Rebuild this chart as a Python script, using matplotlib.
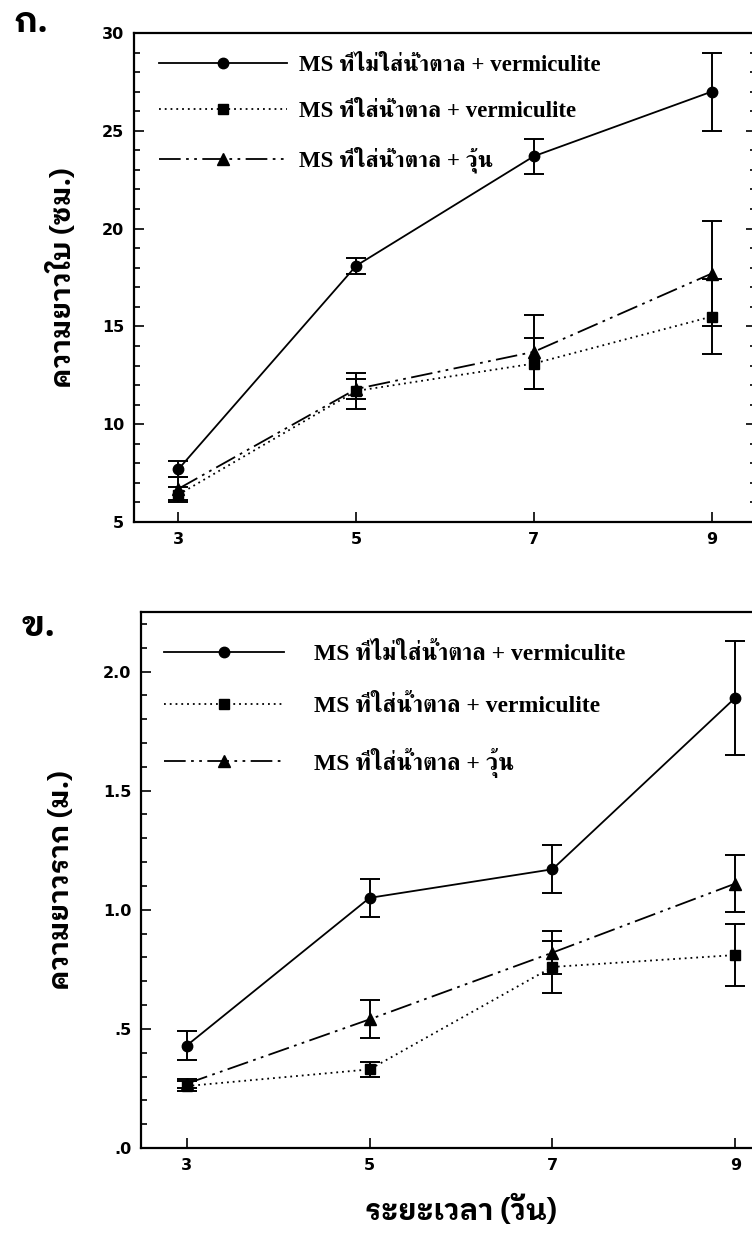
import matplotlib
matplotlib.use("Agg")
import matplotlib.pyplot as plt
from matplotlib.lines import Line2D
from matplotlib.font_manager import FontProperties
from matplotlib.ticker import MultipleLocator, FuncFormatter

# days after planting
days = [3, 5, 7, 9]

labels = ["MS ที่ไม่ใส่น้ำตาล + vermiculite",
          "MS ที่ใส่น้ำตาล + vermiculite",
          "MS ที่ใส่น้ำตาล + วุ้น"]

# leaf length (cm)
leaf_nosugar_verm = [7.7, 18.1, 23.7, 27.0]
leaf_nosugar_verm_err = [0.4, 0.4, 0.9, 2.0]
leaf_sugar_verm = [6.4, 11.7, 13.1, 15.5]
leaf_sugar_verm_err = [0.4, 0.9, 1.3, 1.9]
leaf_sugar_agar = [6.7, 11.8, 13.7, 17.7]
leaf_sugar_agar_err = [0.6, 0.5, 1.9, 2.7]

# root length
root_nosugar_verm = [0.43, 1.05, 1.17, 1.89]
root_nosugar_verm_err = [0.06, 0.08, 0.10, 0.24]
root_sugar_verm = [0.26, 0.33, 0.76, 0.81]
root_sugar_verm_err = [0.02, 0.03, 0.11, 0.13]
root_sugar_agar = [0.27, 0.54, 0.82, 1.11]
root_sugar_agar_err = [0.02, 0.08, 0.09, 0.12]

W, H = 752, 1242
fig = plt.figure(figsize=(W / 100, H / 100), dpi=100)


def px_axes(left, right, top, bottom):
    return fig.add_axes([left / W, 1 - bottom / H, (right - left) / W, (bottom - top) / H])


thai_bold = ['IBM Plex Sans Thai Looped', 'DejaVu Sans']
serif_thai = ['Liberation Serif', 'FreeSerif', 'DejaVu Serif']

styles = [
    dict(ls='-', marker='o', ms=7.5),
    dict(ls=(0, (1, 2.2)), marker='s', ms=7),
    dict(ls=(0, (12, 3, 1.5, 3, 1.5, 3)), marker='^', ms=8),
]


def bold_ticks(ax):
    for lab in ax.get_xticklabels() + ax.get_yticklabels():
        lab.set_fontfamily('DejaVu Sans')
        lab.set_fontweight('bold')


def draw_panel(ax, series, errs):
    for vals, err, st in zip(series, errs, styles):
        ax.errorbar(days, vals, yerr=err, fmt='none', ecolor='black',
                    elinewidth=1.4, capsize=7.5, capthick=1.4, zorder=2)
        ax.plot(days, vals, color='black', lw=1.3, linestyle=st['ls'],
                marker=st['marker'], ms=st['ms'], mfc='black', mec='black', zorder=3)
    ax.set_xticks(days)
    ax.tick_params(axis='both', which='both', direction='in', right=True, top=False,
                   labelsize=11.5, width=1.2)
    ax.tick_params(axis='both', which='major', length=7, pad=7)
    ax.tick_params(axis='both', which='minor', length=4)
    for sp in ax.spines.values():
        sp.set_linewidth(1.6)


def legend_handles():
    return [Line2D([], [], color='black', lw=1.3, linestyle=st['ls'], marker=st['marker'],
                   ms=st['ms'], mfc='black', mec='black') for st in styles]


# top panel: leaf length
ax1 = px_axes(134, 756, 33, 522)
draw_panel(ax1, [leaf_nosugar_verm, leaf_sugar_verm, leaf_sugar_agar],
           [leaf_nosugar_verm_err, leaf_sugar_verm_err, leaf_sugar_agar_err])
ax1.set_xlim(2.5, 9.5)
ax1.set_ylim(5, 30)
ax1.yaxis.set_major_locator(MultipleLocator(5))
ax1.yaxis.set_minor_locator(MultipleLocator(1))
bold_ticks(ax1)
ax1.set_ylabel("ความยาวใบ (ซม.)", fontsize=20, fontweight='bold', family=thai_bold, labelpad=18)
ax1.legend(legend_handles(), labels, loc='upper left', bbox_to_anchor=(0.04, 0.955),
           frameon=False, prop=FontProperties(family=serif_thai, weight='bold', size=16.5),
           handlelength=5.6, handletextpad=0.5, labelspacing=1.08,
           borderpad=0, borderaxespad=0, numpoints=1)
fig.text(31 / W, 1 - 22 / H, "ก.", fontsize=25, fontweight='bold', family=thai_bold,
         ha='center', va='center')

# bottom panel: root length
ax2 = px_axes(141, 781, 612, 1148)
draw_panel(ax2, [root_nosugar_verm, root_sugar_verm, root_sugar_agar],
           [root_nosugar_verm_err, root_sugar_verm_err, root_sugar_agar_err])
ax2.set_xlim(2.5, 9.5)
ax2.set_ylim(0, 2.25)
ax2.yaxis.set_major_locator(MultipleLocator(0.5))
ax2.yaxis.set_minor_locator(MultipleLocator(0.1))
ax2.yaxis.set_major_formatter(FuncFormatter(lambda v, p: ("%.1f" % v).lstrip('0') if v < 1 else "%.1f" % v))
bold_ticks(ax2)
ax2.set_ylabel("ความยาวราก (ม.)", fontsize=20, fontweight='bold', family=thai_bold, labelpad=20)
ax2.set_xlabel("ระยะเวลา (วัน)", fontsize=21, fontweight='bold', family=thai_bold, labelpad=16)
ax2.legend(legend_handles(), labels, loc='upper left', bbox_to_anchor=(0.036, 0.942),
           frameon=False, prop=FontProperties(family=serif_thai, weight='bold', size=17),
           handlelength=5.1, handletextpad=1.25, labelspacing=1.28,
           borderpad=0, borderaxespad=0, numpoints=1)
fig.text(39 / W, 1 - 627 / H, "ข.", fontsize=25, fontweight='bold', family=thai_bold,
         ha='center', va='center')

fig.savefig("out.png", dpi=100)
